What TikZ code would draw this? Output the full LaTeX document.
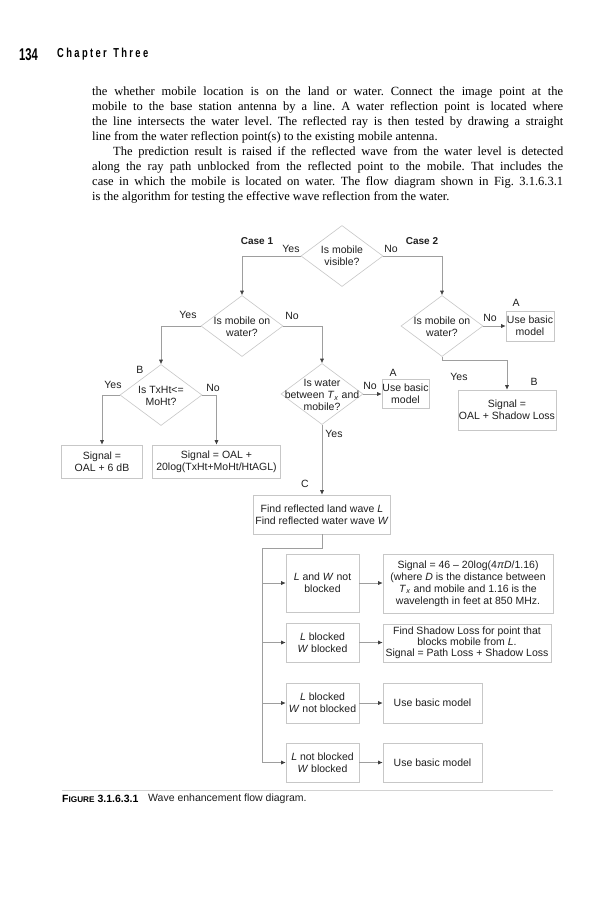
\documentclass[tikz,border=0pt]{standalone}
\usepackage{fontspec}
\setmainfont{Liberation Serif}
\newfontfamily\dsans{Liberation Sans}
\usetikzlibrary{shapes.geometric,arrows.meta}
\definecolor{boxc}{gray}{0.78}
\definecolor{linec}{gray}{0.62}
\definecolor{tipc}{gray}{0.25}
\definecolor{txtc}{gray}{0.12}
\newcommand\jline[1]{\hbox to 471pt{#1}}
\newcommand\nline[1]{\hbox{#1}}
\newcommand\ks{\kern3.3pt}
\begin{document}
\begin{tikzpicture}[x=1pt,y=-1pt,
  font=\dsans\fontsize{10.5}{12}\selectfont, text=txtc,
  dia/.style={diamond, draw=boxc, line width=0.6pt, minimum width=82pt, minimum height=61pt, inner sep=0pt},
  diatext/.style={align=center, inner sep=0pt},
  box/.style={draw=boxc, line width=0.6pt, inner sep=0pt, align=center},
  lbl/.style={inner sep=0pt},
  hd/.style={inner sep=0pt, font=\dsans\bfseries\fontsize{10}{12}\selectfont},
  ln/.style={draw=linec, line width=0.6pt},
  arr/.style={draw=linec, line width=0.6pt, -{Latex[length=4.5pt,width=4pt,color=tipc]}}]
\fill[white] (0,0) rectangle (613,900);
\useasboundingbox (0,0) rectangle (613,900);

% header
\node[anchor=base west, inner sep=0pt, text=black] (pg) at (19,60)
  {\dsans\bfseries\fontsize{17}{17}\selectfont\scalebox{0.66}[1]{134}};
\node[anchor=base west, inner sep=0pt, text=black] (chap) at (57,57.5)
  {\dsans\bfseries\fontsize{13}{13}\selectfont\scalebox{0.72}[1]{C\ks h\ks a\ks p\ks t\ks e\ks r\kern9pt T\ks h\ks r\ks e\ks e}};

% body text
\node[anchor=north west, inner sep=0pt, text=black] (body) at (92,86.3)
  {\vbox{\rmfamily\frenchspacing\fontsize{12.5}{15.1}\selectfont
   \jline{the whether mobile location is on the land or water. Connect the image point at the}
   \jline{mobile to the base station antenna by a line. A water reflection point is located where}
   \jline{the line intersects the water level. The reflected ray is then tested by drawing a straight}
   \nline{line from the water reflection point(s) to the existing mobile antenna.}
   \jline{\hspace*{21pt}The prediction result is raised if the reflected wave from the water level is detected}
   \jline{along the ray path unblocked from the reflected point to the mobile. That includes the}
   \jline{case in which the mobile is located on water. The flow diagram shown in Fig. 3.1.6.3.1}
   \nline{is the algorithm for testing the effective wave reflection from the water.}}};

% diamonds
\node[dia] (d1) at (342,256) {};
\node[diatext] (d1t) at (342,256) {Is mobile\\visible?};
\node[dia] (d2) at (242,326) {};
\node[diatext] (d2t) at (242,326.5) {Is mobile on\\water?};
\node[dia] (dR) at (442,326) {};
\node[diatext] (dRt) at (442,326.5) {Is mobile on\\water?};
\node[dia] (d3) at (161,395) {};
\node[diatext] (d3t) at (161,395.5) {Is TxHt<=\\MoHt?};
\node[dia] (d4) at (322,394) {};
\node[diatext] (d4t) at (322,395) {Is water\\between \textit{T}\textsubscript{\textit{x}} and\\mobile?};

% boxes
\node[box, minimum width=48pt, minimum height=30pt] (ubR) at (530,326) {Use basic\\model};
\node[box, minimum width=47pt, minimum height=29pt] (ub4) at (405.5,394) {Use basic\\model};
\node[box, minimum width=98pt, minimum height=40pt] (sigOAL) at (507,410) {Signal =\\OAL + Shadow Loss};
\node[box, minimum width=81pt, minimum height=33pt] (sig6) at (102,461.5) {Signal =\\OAL + 6 dB};
\node[box, minimum width=128pt, minimum height=33pt] (sig20) at (216.5,461.5) {Signal = OAL +\\20log(TxHt+MoHt/HtAGL)};
\node[box, minimum width=137pt, minimum height=39pt] (find) at (322,514.5)
  {Find reflected land wave \textit{L}\\Find reflected water wave \textit{W}};

\node[box, minimum width=73pt, minimum height=58pt] (s1) at (322.5,583) {\textit{L} and \textit{W} not\\blocked};
\node[box, minimum width=73pt, minimum height=39pt] (s2) at (322.5,642.5) {\textit{L} blocked\\\textit{W} blocked};
\node[box, minimum width=73pt, minimum height=40pt] (s3) at (322.5,703) {\textit{L} blocked\\\textit{W} not blocked};
\node[box, minimum width=73pt, minimum height=39pt] (s4) at (322.5,762.5) {\textit{L} not blocked\\\textit{W} blocked};

\node[box, minimum width=170pt, minimum height=59pt] (b1) at (468,583.5)
  {Signal = 46 – 20log(4\textit{πD}/1.16)\\(where \textit{D} is the distance between\\\textit{T}\textsubscript{\textit{x}} and mobile and 1.16 is the\\wavelength in feet at 850 MHz.};
\node[box, minimum width=168pt, minimum height=38pt, font=\dsans\fontsize{10.5}{11}\selectfont] (b2) at (467,643)
  {Find Shadow Loss for point that\\blocks mobile from \textit{L}.\\Signal = Path Loss + Shadow Loss};
\node[box, minimum width=99pt, minimum height=40pt] (b3) at (432.5,703) {Use basic model};
\node[box, minimum width=99pt, minimum height=39pt] (b4) at (432.5,762.5) {Use basic model};

% connectors
\draw[arr] (d1.west) -| (d2.north);
\draw[arr] (d1.east) -| (dR.north);
\draw[arr] (d2.west) -| (d3.north);
\draw[arr] (d2.east) -| (d4.north);
\draw[arr] (d3.west) -| (sig6.north);
\draw[arr] (d3.east) -| (sig20.north);
\draw[arr] (d4.east) -- (ub4.west);
\draw[arr] (d4.south) -- (find.north);
\draw[arr] (dR.east) -- (ubR.west);
\coordinate (rb) at (442,360);
\draw[arr] (dR.south) -- (rb) -| (sigOAL.north);
\coordinate (t0) at (262,548);
\draw[arr] (find.south) |- (t0) |- (s4.west);
\draw[arr] (t0 |- s1.west) -- (s1.west);
\draw[arr] (t0 |- s2.west) -- (s2.west);
\draw[arr] (t0 |- s3.west) -- (s3.west);
\draw[arr] (s1.east) -- (b1.west |- s1.east);
\draw[arr] (s2.east) -- (b2.west |- s2.east);
\draw[arr] (s3.east) -- (b3.west);
\draw[arr] (s4.east) -- (b4.west);

% labels
\node[hd] (c1) at (257,241) {Case 1};
\node[hd] (c2) at (422,241) {Case 2};
\node[lbl] (y1) at (291,249) {Yes};
\node[lbl] (n1) at (391,248.5) {No};
\node[lbl] (y2) at (188,315) {Yes};
\node[lbl] (n2) at (292,316) {No};
\node[lbl] (lb1) at (140,370) {B};
\node[lbl] (y3) at (113,385) {Yes};
\node[lbl] (n3) at (213,388) {No};
\node[lbl] (n4) at (370,386) {No};
\node[lbl] (la1) at (393,373) {A};
\node[lbl] (y4) at (334,434) {Yes};
\node[lbl] (lc) at (305,484) {C};
\node[lbl] (nR) at (490,318) {No};
\node[lbl] (la2) at (516,303) {A};
\node[lbl] (yR) at (459,377) {Yes};
\node[lbl] (lb2) at (534,382) {B};

% caption
\draw[draw=gray!35, line width=0.6pt] (62,790.5) -- (553,790.5);
\node[anchor=west, inner sep=0pt, text=black] (capn) at (62,798.5)
  {\bfseries\fontsize{10.5}{12}\selectfont F{\fontsize{8.2}{10}\selectfont IGURE} 3.1.6.3.1};
\node[anchor=west, inner sep=0pt] (capt) at (148,798.5) {Wave enhancement flow diagram.};
\end{tikzpicture}
\end{document}
